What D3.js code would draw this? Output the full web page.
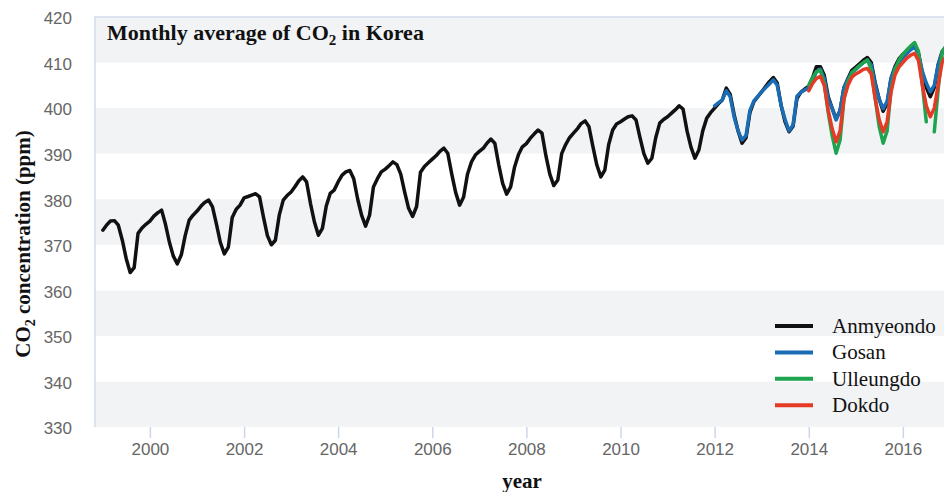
<!DOCTYPE html>
<html>
<head>
<meta charset="utf-8">
<script src="https://cdn.jsdelivr.net/npm/d3@7"></script>
<style>
    body { margin: 0; background: #fff; }
    .tick-label { font-family: "Liberation Sans", Arial, sans-serif; font-size: 17px; fill: #666; }
    .serif { font-family: "Liberation Serif", "Times New Roman", serif; fill: #111; }
</style>
</head>
<body>
<div id="chart-area"></div>
<script>

// monthly averages, ppm
var anmyeondoStart = [1999, 0];
var anmyeondo = [
    373.2, 374.4, 375.2, 375.3, 374.3, 371.0, 367.0, 363.9, 365.0, 372.5, 373.7, 374.5,
    375.2, 376.3, 377.0, 377.6, 374.5, 370.5, 367.5, 365.8, 367.8, 372.0, 375.4, 376.5,
    377.4, 378.5, 379.3, 379.8, 378.3, 374.5, 370.5, 368.0, 369.5, 376.0, 377.8, 378.7,
    380.3, 380.6, 380.9, 381.2, 380.5, 376.0, 372.0, 370.0, 371.0, 376.5, 379.8, 380.8,
    381.6, 382.8, 384.0, 384.9, 383.8, 379.0, 375.0, 372.1, 373.6, 378.5, 381.3, 382.0,
    383.8, 385.3, 386.0, 386.3, 384.5, 380.0, 376.5, 374.1, 376.5, 382.7, 384.5, 386.0,
    386.6, 387.4, 388.2, 387.6, 385.5, 381.5, 378.0, 376.2, 378.4, 385.9, 387.2, 388.0,
    388.8, 389.6, 390.5, 391.2, 390.1, 385.5, 381.5, 378.7, 380.5, 385.5, 388.2, 389.7,
    390.5, 391.2, 392.3, 393.2, 392.3, 387.5, 383.5, 381.1, 382.7, 387.0, 389.8, 391.5,
    392.2, 393.4, 394.3, 395.2, 394.5, 389.5, 385.5, 383.0, 384.2, 390.0, 392.0, 393.5,
    394.5, 395.5, 396.6, 397.2, 395.9, 391.5, 387.5, 384.9, 386.4, 392.0, 395.2, 396.5,
    397.0, 397.6, 398.1, 398.3, 397.4, 393.5, 390.0, 387.9, 389.0, 393.5, 396.7, 397.5,
    398.1, 398.9, 399.6, 400.5, 399.8, 395.0, 391.5, 389.0, 390.8, 395.0, 397.8, 399.0,
    400.0, 401.0, 401.8, 404.4, 403.0, 398.5, 395.0, 392.3, 393.5, 399.0, 401.4, 402.5,
    403.6, 404.8, 405.8, 406.7, 405.5, 400.5, 397.0, 394.8, 396.0, 402.1, 403.5, 404.2,
    404.8, 406.8, 409.1, 409.1, 407.2, 402.5, 400.0, 397.6, 399.5, 404.5, 406.5, 408.3,
    409.0, 409.8, 410.5, 411.1, 410.0, 405.5, 402.0, 399.3, 401.0, 406.5, 409.1, 410.8,
    411.8, 412.5, 413.2, 413.8, 412.0, 407.5, 404.5, 402.5, 404.5, 409.5, 412.4, 413.5
];

var gosanStart = [2012, 0];
var gosan = [
    400.5, 401.2, 401.8, 403.8, 402.5, 398.0, 395.0, 393.0, 394.0, 399.5, 401.6, 402.6,
    403.6, 404.5, 405.3, 406.2, 405.0, 400.5, 397.5, 395.0, 396.3, 402.6, 403.5, 404.0,
    404.5, 406.0, 408.0, 408.5, 406.5, 402.0, 400.0, 397.4, 399.5, 404.5, 406.3, 407.8,
    408.5, 409.3, 410.0, 410.5, 409.5, 405.0, 402.0, 399.9, 401.5, 406.5, 408.8, 410.0,
    411.0, 412.0, 412.8, 413.4, 412.0, 408.0, 405.5, 403.6, 405.0, 409.5, 412.0, 413.0
];

var ulleungdoStart = [2014, 0];
var ulleungdo = [
    405.0, 406.8, 408.0, 408.3, 405.5, 399.0, 394.0, 390.1, 393.0, 402.0, 405.8, 407.8,
    408.6, 409.4, 410.0, 410.6, 408.5, 402.0, 396.0, 392.3, 395.0, 404.0, 408.5, 410.5,
    411.8, 412.8, 413.6, 414.4, 412.5, 405.0, 397.0, null, 394.8, 404.0, 412.4, 413.5
];

var dokdoStart = [2014, 0];
var dokdo = [
    403.8, 405.5, 406.5, 407.0, 405.0, 399.5, 395.5, 392.6, 395.0, 402.0, 405.0, 406.8,
    407.5, 408.0, 408.5, 408.7, 407.5, 402.0, 397.5, 394.8, 397.0, 403.5, 407.3, 409.0,
    410.0, 411.0, 411.6, 412.0, 410.5, 405.0, 400.5, 398.1, 400.0, 405.0, 410.0, 411.5
];

var stationNames = ["Anmyeondo", "Gosan", "Ulleungdo", "Dokdo"];
var yTicks = [330, 340, 350, 360, 370, 380, 390, 400, 410, 420];
var xTickYears = [2000, 2002, 2004, 2006, 2008, 2010, 2012, 2014, 2016];


LineChart = function(_parentElement, _data){
    this.parentElement = _parentElement;
    this.data = _data;

    this.initVis();
}


LineChart.prototype.initVis = function(){
    var vis = this;

    vis.margin = { top: 17, right: 0, bottom: 65, left: 95 };
    vis.width = 855;
    vis.height = 410;

    vis.svg = d3.select("#" + vis.parentElement).append("svg")
        .attr("width", 944)
        .attr("height", 492)
        .append("g")
        .attr("transform", "translate(" + vis.margin.left + "," + vis.margin.top + ")");

    vis.colorMap = {
        "Anmyeondo": "#111111",
        "Gosan": "#1a6db5",
        "Ulleungdo": "#1ea34e",
        "Dokdo": "#e43a26"
    };

    vis.x = d3.scaleTime()
        .domain([new Date(1998, 10, 1), new Date(2017, 0, 1)])
        .range([0, vis.width]);

    vis.y = d3.scaleLinear()
        .domain([330, 420])
        .range([vis.height, 0]);

    // alternating bands
    var bands = yTicks.slice(0, -1);
    vis.svg.selectAll("rect.band")
        .data(bands)
        .enter().append("rect")
        .attr("class", "band")
        .attr("x", 0)
        .attr("width", vis.width)
        .attr("y", function(d) { return vis.y(d + 10); })
        .attr("height", function(d) { return vis.y(d) - vis.y(d + 10); })
        .attr("fill", function(d, i) { return i % 2 == 0 ? "#f2f3f5" : "#ffffff"; });

    // plot border (top + left) and x axis line
    vis.svg.append("path")
        .attr("d", "M0," + vis.height + "V0H" + vis.width)
        .attr("fill", "none")
        .attr("stroke", "#d3dcea")
        .attr("stroke-width", 1.5);

    vis.xAxis = d3.axisBottom(vis.x)
        .tickValues(xTickYears.map(function(y) { return new Date(y, 0, 1); }))
        .tickFormat(d3.timeFormat("%Y"))
        .tickSize(11)
        .tickPadding(5);

    vis.yAxis = d3.axisLeft(vis.y)
        .tickValues(yTicks)
        .tickSize(0)
        .tickPadding(23);

    vis.svg.append("g")
        .attr("class", "x-axis axis")
        .attr("transform", "translate(0," + vis.height + ")");

    vis.svg.append("g")
        .attr("class", "y-axis axis");

    vis.line = d3.line()
        .defined(function(d) { return d.value != null; })
        .x(function(d) { return vis.x(d.date); })
        .y(function(d) { return vis.y(d.value); });

    vis.wrangleData();
}


LineChart.prototype.wrangleData = function(){
    var vis = this;

    vis.displayData = vis.data.map(function(s) {
        return {
            name: s.name,
            values: s.values.map(function(v, i) {
                return { date: new Date(s.start[0], s.start[1] + i, 1), value: v };
            })
        };
    });

    vis.updateVis();
}


LineChart.prototype.updateVis = function(){
    var vis = this;

    vis.svg.select(".x-axis").call(vis.xAxis);
    vis.svg.select(".y-axis").call(vis.yAxis);

    vis.svg.selectAll(".axis .domain").remove();
    vis.svg.selectAll(".x-axis .tick line")
        .attr("stroke", "#ccd6eb")
        .attr("stroke-width", 1.5);
    vis.svg.selectAll(".axis text")
        .attr("class", "tick-label")
        .attr("fill", null);
    vis.svg.selectAll(".y-axis text").attr("dy", "0.4em");

    vis.svg.append("clipPath")
        .attr("id", "plot-clip")
        .append("rect")
        .attr("width", vis.width)
        .attr("height", vis.height);

    vis.svg.append("g")
        .attr("clip-path", "url(#plot-clip)")
        .selectAll("path.series")
        .data(vis.displayData)
        .enter().append("path")
        .attr("class", "series")
        .attr("d", function(d) { return vis.line(d.values); })
        .attr("fill", "none")
        .attr("stroke", function(d) { return vis.colorMap[d.name]; })
        .attr("stroke-width", 3.5)
        .attr("stroke-linejoin", "round")
        .attr("stroke-linecap", "round");

    // chart title
    var title = vis.svg.append("text")
        .attr("class", "serif")
        .attr("x", 12)
        .attr("y", 23)
        .style("font-size", "22px")
        .style("font-weight", "bold");
    title.append("tspan").text("Monthly average of CO");
    title.append("tspan").attr("dy", 5).style("font-size", "15px").text("2");
    title.append("tspan").attr("dy", -5).text(" in Korea");

    // axis titles
    vis.svg.append("text")
        .attr("class", "serif")
        .attr("x", 427)
        .attr("y", 471)
        .attr("text-anchor", "middle")
        .style("font-size", "21px")
        .style("font-weight", "bold")
        .text("year");

    var yTitle = vis.svg.append("text")
        .attr("class", "serif")
        .attr("transform", "translate(-65," + (vis.height / 2 + 22) + ") rotate(-90)")
        .attr("text-anchor", "middle")
        .style("font-size", "21px")
        .style("font-weight", "bold");
    yTitle.append("tspan").text("CO");
    yTitle.append("tspan").attr("dy", 5).style("font-size", "14px").text("2");
    yTitle.append("tspan").attr("dy", -5).text(" concentration (ppm)");

    // legend
    var legend = vis.svg.selectAll("g.legend-item")
        .data(stationNames)
        .enter().append("g")
        .attr("class", "legend-item")
        .attr("transform", function(d, i) { return "translate(680," + (309 + i * 26.4) + ")"; });

    legend.append("line")
        .attr("x1", 0)
        .attr("x2", 38)
        .attr("stroke", function(d) { return vis.colorMap[d]; })
        .attr("stroke-width", 4);

    legend.append("text")
        .attr("class", "serif")
        .attr("x", 57)
        .attr("y", 7)
        .style("font-size", "21px")
        .text(function(d) { return d; });
}


var stations = [
    { name: stationNames[0], start: anmyeondoStart, values: anmyeondo },
    { name: stationNames[1], start: gosanStart, values: gosan },
    { name: stationNames[2], start: ulleungdoStart, values: ulleungdo },
    { name: stationNames[3], start: dokdoStart, values: dokdo }
];

var co2Chart = new LineChart("chart-area", stations);

</script>
</body>
</html>
